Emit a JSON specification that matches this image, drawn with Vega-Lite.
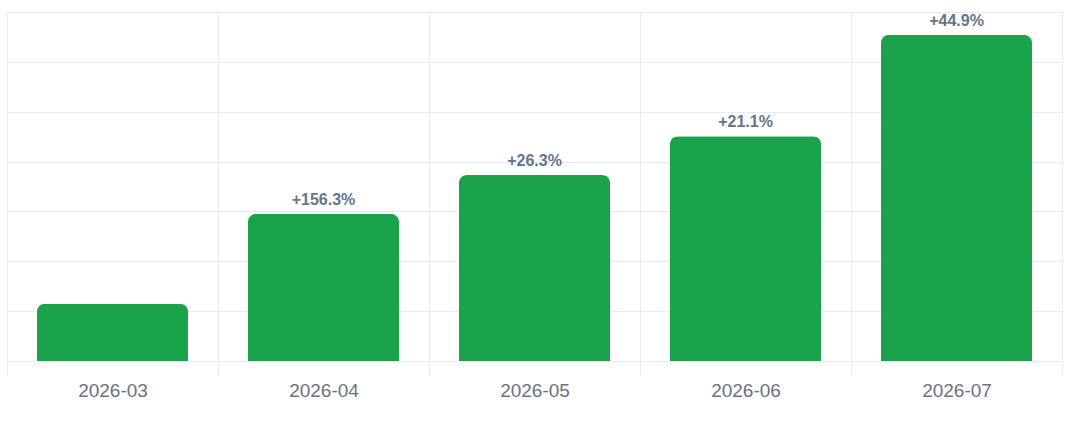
{
  "$schema": "https://vega.github.io/schema/vega-lite/v6.json",
  "autosize": "none",
  "padding": {"left": 7, "top": 12, "right": 10, "bottom": 69},
  "width": 1055,
  "height": 349,
  "data": {
    "values": [
      {"month": "2026-03", "value": 115, "change": ""},
      {"month": "2026-04", "value": 295, "change": "+156.3%"},
      {"month": "2026-05", "value": 373, "change": "+26.3%"},
      {"month": "2026-06", "value": 451, "change": "+21.1%"},
      {"month": "2026-07", "value": 654, "change": "+44.9%"}
    ]
  },
  "encoding": {
    "x": {
      "field": "month",
      "type": "nominal",
      "sort": null,
      "scale": {"paddingInner": 0, "paddingOuter": 0},
      "axis": {
        "title": null,
        "labelAngle": 0,
        "tickBand": "extent",
        "grid": true,
        "gridColor": "#e9ebf1",
        "tickColor": "#e9ebf1",
        "tickSize": 14,
        "domain": false,
        "labelFont": "Liberation Sans",
        "labelFontSize": 19,
        "labelColor": "#6b7280",
        "labelPadding": 6
      }
    },
    "y": {
      "field": "value",
      "type": "quantitative",
      "scale": {"domain": [0, 700]},
      "axis": {
        "title": null,
        "labels": false,
        "ticks": false,
        "domain": false,
        "grid": true,
        "gridColor": "#e9ebf1",
        "tickCount": 7
      }
    }
  },
  "layer": [
    {
      "mark": {
        "type": "bar",
        "color": "#1aa34a",
        "width": {"band": 0.716},
        "cornerRadiusTopLeft": 8,
        "cornerRadiusTopRight": 8
      }
    },
    {
      "mark": {
        "type": "text",
        "baseline": "alphabetic",
        "dy": -9,
        "font": "Liberation Sans",
        "fontSize": 16,
        "fontWeight": "bold",
        "color": "#64748b"
      },
      "encoding": {"text": {"field": "change"}}
    }
  ],
  "config": {"view": {"stroke": null}}
}
